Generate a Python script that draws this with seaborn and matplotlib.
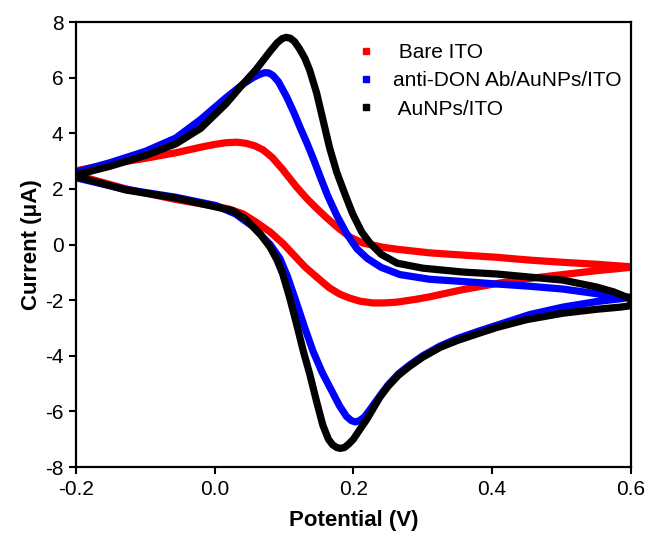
import numpy as np
import pandas as pd
import matplotlib
matplotlib.use("Agg")
import matplotlib.pyplot as plt
from matplotlib.lines import Line2D
import seaborn as sns

# ---- data (potential in V, current in uA) ----
bare_up_v = [-0.20, -0.15, -0.10, -0.056, -0.02, 0.0, 0.016, 0.032, 0.045, 0.058, 0.07, 0.083, 0.098,
             0.118, 0.133, 0.147, 0.162, 0.178, 0.195, 0.214, 0.243, 0.263, 0.31, 0.358, 0.407, 0.454,
             0.502, 0.551, 0.60]
bare_up_i = [2.65, 2.9, 3.1, 3.3, 3.5, 3.6, 3.66, 3.68, 3.64, 3.55, 3.4, 3.13, 2.7,
             2.07, 1.65, 1.3, 0.95, 0.6, 0.27, 0.05, -0.1, -0.17, -0.3, -0.38, -0.46, -0.56,
             -0.64, -0.71, -0.8]
bare_dn_v = [-0.20, -0.128, -0.056, 0.0, 0.02, 0.041, 0.06, 0.08, 0.098, 0.115, 0.13, 0.147, 0.165,
             0.18, 0.195, 0.21, 0.228, 0.245, 0.263, 0.29, 0.31, 0.358, 0.407, 0.454, 0.502, 0.551, 0.60]
bare_dn_i = [2.5, 2.0, 1.62, 1.38, 1.28, 1.1, 0.8, 0.45, 0.05, -0.4, -0.8, -1.17, -1.55,
             -1.78, -1.93, -2.04, -2.1, -2.1, -2.07, -1.97, -1.88, -1.62, -1.4, -1.22, -1.08, -0.94, -0.82]

ab_up_v = [-0.20, -0.15, -0.10, -0.056, -0.02, 0.016, 0.04, 0.055, 0.065, 0.072, 0.078, 0.084, 0.092,
           0.104, 0.115, 0.123, 0.133, 0.142, 0.152, 0.163, 0.176, 0.19, 0.205, 0.22, 0.24, 0.267, 0.31,
           0.358, 0.407, 0.454, 0.502, 0.551, 0.58, 0.60]
ab_up_i = [2.6, 2.95, 3.35, 3.83, 4.5, 5.27, 5.75, 6.0, 6.12, 6.18, 6.17, 6.08, 5.85,
           5.3, 4.7, 4.22, 3.65, 3.1, 2.45, 1.75, 1.05, 0.4, -0.15, -0.5, -0.82, -1.08, -1.25,
           -1.33, -1.42, -1.5, -1.6, -1.77, -1.85, -1.9]
ab_dn_v = [-0.20, -0.128, -0.056, 0.002, 0.03, 0.055, 0.07, 0.08, 0.094, 0.105, 0.118, 0.13, 0.142,
           0.155, 0.166, 0.18, 0.19, 0.197, 0.203, 0.209, 0.216, 0.225, 0.238, 0.25, 0.265, 0.28, 0.30,
           0.325, 0.35, 0.38, 0.407, 0.454, 0.502, 0.551, 0.585, 0.60]
ab_dn_i = [2.4, 1.98, 1.7, 1.4, 1.1, 0.65, 0.25, 0.0, -0.5, -1.15, -2.1, -3.0, -3.85,
           -4.6, -5.13, -5.8, -6.18, -6.33, -6.38, -6.33, -6.2, -5.9, -5.45, -5.05, -4.65, -4.35, -4.0,
           -3.65, -3.38, -3.12, -2.9, -2.52, -2.25, -2.05, -1.95, -1.9]

au_up_v = [-0.20, -0.15, -0.10, -0.056, -0.02, 0.016, 0.04, 0.059, 0.08, 0.09, 0.097, 0.103, 0.109,
           0.115, 0.122, 0.13, 0.137, 0.147, 0.156, 0.166, 0.176, 0.188, 0.199, 0.212, 0.224, 0.24,
           0.263, 0.30, 0.358, 0.407, 0.454, 0.502, 0.551, 0.575, 0.59, 0.60]
au_up_i = [2.5, 2.82, 3.2, 3.62, 4.18, 5.05, 5.75, 6.27, 6.95, 7.25, 7.4, 7.45, 7.42,
           7.3, 7.05, 6.7, 6.27, 5.45, 4.5, 3.45, 2.6, 1.8, 1.1, 0.45, 0.05, -0.35, -0.67, -0.85,
           -0.99, -1.06, -1.17, -1.28, -1.53, -1.7, -1.85, -1.95]
au_dn_v = [-0.20, -0.128, -0.056, 0.002, 0.026, 0.045, 0.065, 0.08, 0.09, 0.098, 0.108, 0.118,
           0.128, 0.137, 0.147, 0.156, 0.164, 0.17, 0.176, 0.181, 0.187, 0.193, 0.2, 0.208, 0.219,
           0.238, 0.25, 0.265, 0.28, 0.30, 0.325, 0.35, 0.38, 0.407, 0.45, 0.502, 0.55, 0.585, 0.60]
au_dn_i = [2.45, 1.96, 1.67, 1.35, 1.22, 0.9, 0.4, -0.1, -0.56, -1.05, -1.9, -2.85,
           -3.85, -4.65, -5.65, -6.5, -7.0, -7.2, -7.3, -7.33, -7.3, -7.18, -7.0, -6.7, -6.3,
           -5.5, -5.1, -4.7, -4.4, -4.05, -3.7, -3.45, -3.2, -2.98, -2.7, -2.47, -2.33, -2.25, -2.2]

labels = ["Bare ITO", "anti-DON Ab/AuNPs/ITO", "AuNPs/ITO"]
legend_text = [" Bare ITO", "anti-DON Ab/AuNPs/ITO", " AuNPs/ITO"]
colors = ["#ff0000", "#0000ff", "#000000"]
x_ticks = [-0.2, 0.0, 0.2, 0.4, 0.6]
y_ticks = [-8, -6, -4, -2, 0, 2, 4, 6, 8]


def loop(up_v, up_i, dn_v, dn_i, name):
    v = list(up_v) + list(dn_v[::-1]) + [up_v[0]]
    i = list(up_i) + list(dn_i[::-1]) + [up_i[0]]
    return pd.DataFrame({"E": v, "I": i, "sample": name, "order": np.arange(len(v))})


df = pd.concat([
    loop(bare_up_v, bare_up_i, bare_dn_v, bare_dn_i, labels[0]),
    loop(ab_up_v, ab_up_i, ab_dn_v, ab_dn_i, labels[1]),
    loop(au_up_v, au_up_i, au_dn_v, au_dn_i, labels[2]),
], ignore_index=True)

sns.set_style("ticks")
plt.rcParams["font.family"] = ["Liberation Sans", "DejaVu Sans"]
plt.rcParams["text.color"] = "black"
plt.rcParams["axes.labelcolor"] = "black"
plt.rcParams["xtick.color"] = "black"
plt.rcParams["ytick.color"] = "black"

fig = plt.figure(figsize=(6.49, 5.44), dpi=100)
ax = fig.add_axes([0.117, 0.1415, 0.855, 0.818])

for name, col in zip(labels, colors):
    sub = df[df["sample"] == name]
    sns.lineplot(data=sub, x="E", y="I", sort=False, estimator=None, color=col,
                 linewidth=5.2, ax=ax, legend=False, solid_joinstyle="round", solid_capstyle="round")

ax.set_xlim(-0.2, 0.6)
ax.set_ylim(-8, 8)
ax.set_xticks(x_ticks)
ax.set_xticklabels([f"{t:.1f}" for t in x_ticks])
ax.set_yticks(y_ticks)
ax.set_yticklabels([f"{t:d}" for t in y_ticks])
ax.tick_params(axis="both", which="major", direction="out", length=5, width=1.5,
               labelsize=15, colors="black", pad=4)
for s in ax.spines.values():
    s.set_visible(True)
    s.set_linewidth(1.6)
    s.set_color("black")

ax.set_xlabel("Potential (V)", fontsize=16, fontweight="bold", labelpad=8, color="black")
ax.set_ylabel("Current (\u03bcA)", fontsize=16, fontweight="bold", labelpad=2, color="black")

handles = [Line2D([], [], linestyle="none", marker="s", markersize=5, color=c) for c in colors]
leg = ax.legend(handles, legend_text, loc="upper left", bbox_to_anchor=(0.47, 0.995), frameon=False,
                fontsize=15, handlelength=1.0, handletextpad=0.8, labelspacing=0.45)
for t in leg.get_texts():
    t.set_color("black")

fig.savefig("out.png", dpi=100)
